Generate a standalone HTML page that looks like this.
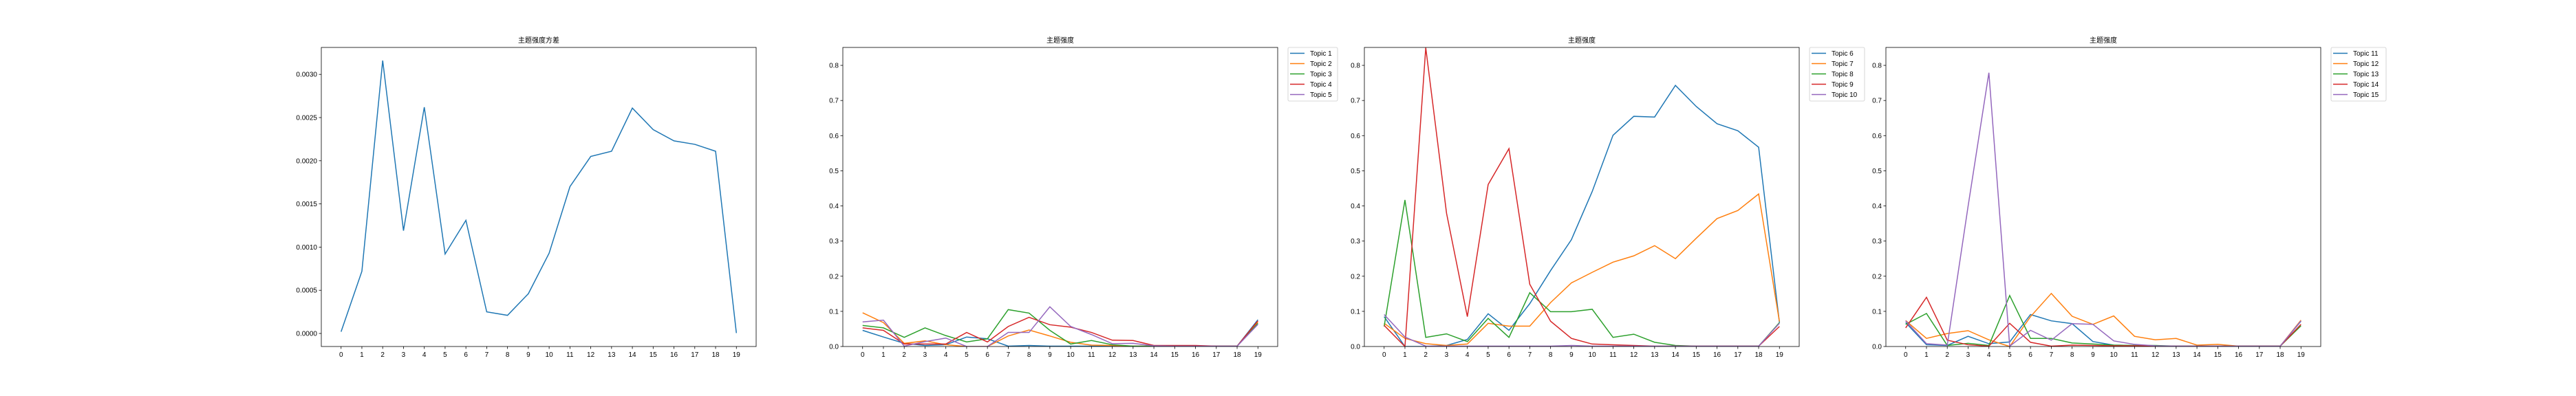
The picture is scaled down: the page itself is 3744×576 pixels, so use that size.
<!DOCTYPE html>
<html><head><meta charset="utf-8"><style>
html,body{margin:0;padding:0;background:#fff;}
svg{display:block;font-family:"Liberation Sans","Noto Sans CJK SC",sans-serif;}
</style></head><body>
<svg id="chart" width="3744" height="576" viewBox="0 0 3744 576" xmlns="http://www.w3.org/2000/svg"></svg>
<script>
const categories = [0,1,2,3,4,5,6,7,8,9,10,11,12,13,14,15,16,17,18,19];
const varianceValues = [0.00002,0.00072,0.00316,0.00119,0.00262,0.00092,0.00131,0.00025,0.00021,0.00046,0.00093,0.0017,0.00205,0.00211,0.00261,0.00236,0.00223,0.00219,0.00211,0.000005];
const varianceTicks = [0,0.0005,0.001,0.0015,0.002,0.0025,0.003];
const strengthTicks = [0,0.1,0.2,0.3,0.4,0.5,0.6,0.7,0.8];
const topic1 = [0.046,0.027,0.009,0.003,0.005,0.027,0.022,0.001,0.003,0.001,0.001,0.001,0.001,0.001,0.001,0.001,0.001,0.001,0.001,0.076];
const topic2 = [0.096,0.068,0.009,0.016,0.005,0,0,0.030,0.047,0.030,0.012,0.004,0.003,0.001,0.001,0.001,0.001,0.001,0.001,0.070];
const topic3 = [0.060,0.053,0.026,0.053,0.031,0.013,0.022,0.105,0.095,0.046,0.007,0.017,0.005,0.001,0.001,0.001,0.001,0.001,0.001,0.066];
const topic4 = [0.053,0.046,0.007,0.007,0.007,0.040,0.013,0.057,0.083,0.062,0.055,0.040,0.018,0.017,0.003,0.003,0.003,0.001,0.001,0.073];
const topic5 = [0.070,0.075,0.001,0.014,0.024,0,0,0.040,0.040,0.113,0.057,0.034,0.008,0.009,0.002,0.001,0.001,0.001,0.001,0.063];
const topic6 = [0.085,0,0,0.003,0.020,0.093,0.046,0.122,0.216,0.304,0.441,0.601,0.655,0.653,0.743,0.683,0.634,0.614,0.567,0.068];
const topic7 = [0.066,0.023,0.008,0.003,0.007,0.066,0.058,0.058,0.125,0.181,0.211,0.240,0.258,0.287,0.250,0.308,0.364,0.387,0.434,0.071];
const topic8 = [0.057,0.417,0.026,0.036,0.014,0.080,0.026,0.153,0.099,0.099,0.106,0.026,0.035,0.012,0.003,0.001,0.001,0.001,0.001,0.068];
const topic9 = [0.060,0,0.850,0.379,0.085,0.461,0.563,0.177,0.072,0.023,0.007,0.005,0.003,0.001,0.001,0.001,0.001,0.001,0.001,0.057];
const topic10 = [0.091,0.027,0.001,0.001,0.001,0.001,0.001,0.001,0.001,0.003,0.001,0.001,0.001,0.001,0.001,0.001,0.001,0.001,0.001,0.066];
const topic11 = [0.068,0.005,0.003,0.029,0.008,0.013,0.091,0.073,0.065,0.014,0.004,0.003,0.001,0.001,0.001,0.001,0.001,0.001,0.001,0.072];
const topic12 = [0.074,0.023,0.037,0.045,0.019,0,0.085,0.151,0.086,0.063,0.087,0.029,0.019,0.023,0.004,0.006,0.001,0.001,0.001,0.075];
const topic13 = [0.063,0.094,0.003,0.009,0.003,0.145,0.023,0.023,0.010,0.007,0.004,0.003,0.003,0.001,0.001,0.001,0.001,0.001,0.001,0.059];
const topic14 = [0.053,0.140,0.018,0.005,0.001,0.066,0.012,0.001,0.004,0.003,0.002,0.002,0.001,0.001,0.001,0.001,0.001,0.001,0.001,0.063];
const topic15 = [0.073,0.008,0.004,0.399,0.779,0.001,0.046,0.018,0.065,0.063,0.016,0.006,0.002,0.001,0.001,0.001,0.001,0.001,0.001,0.073];
const groupA = ["Topic 1","Topic 2","Topic 3","Topic 4","Topic 5"];
const groupB = ["Topic 6","Topic 7","Topic 8","Topic 9","Topic 10"];
const groupC = ["Topic 11","Topic 12","Topic 13","Topic 14","Topic 15"];

const NS = "http://www.w3.org/2000/svg";
const svg = document.getElementById("chart");
const colors = ["#1f77b4","#ff7f0e","#2ca02c","#d62728","#9467bd"];
function mk(tag, attrs, parent){const e=document.createElementNS(NS,tag);for(const k in attrs)e.setAttribute(k,attrs[k]);(parent||svg).appendChild(e);return e;}

const TOP=69, BOT=504, W=632;
function panel(left, title, ymin, ymax, ticks, fmt, seriesList, names, idx){
  const g = mk("g",{});
  
  
  const xs = v => left + (v + 0.95) / 20.9 * W;
  const ys = v => BOT - (v - ymin) / (ymax - ymin) * (BOT - TOP);
  const t = mk("text",{x:left+W/2,y:62,"text-anchor":"middle","font-size":"10",fill:"#000"},g);
  t.textContent = title;
  
  
  ticks.forEach(v=>{
    const y=ys(v);
    mk("line",{x1:left-3.5,x2:left,y1:y,y2:y,stroke:"#000","stroke-width":0.8},g);
    const l=mk("text",{x:left-6,y:y+3.5,"text-anchor":"end","font-size":"10",fill:"#000"},g);
    l.textContent=fmt(v);
    
    
  });
  categories.forEach(c=>{
    const x=xs(c);
    mk("line",{x1:x,x2:x,y1:BOT,y2:BOT+3.5,stroke:"#000","stroke-width":0.8},g);
    const l=mk("text",{x:x,y:BOT+15,"text-anchor":"middle","font-size":"10",fill:"#000"},g);
    l.textContent=String(c);
    
    
  });
  const clip = "clip"+idx;
  const cp = mk("clipPath",{id:clip},g);
  mk("rect",{x:left,y:TOP,width:W,height:BOT-TOP},cp);
  seriesList.forEach((s,i)=>{
    const d = s.map((v,j)=>(j?"L":"M")+xs(categories[j]).toFixed(2)+","+ys(v).toFixed(2)).join("");
    const p = mk("path",{d:d,fill:"none",stroke:colors[i],"stroke-width":1.5,"clip-path":"url(#"+clip+")"},g);
    
    
  });
  const fr = mk("rect",{x:left,y:TOP,width:W,height:BOT-TOP,fill:"none",stroke:"#000","stroke-width":0.8},g);
  
  
  if(names){
    const lx=left+W+15, lw = names[4].length>7?80:72;
    const lg = mk("g",{},g);
    
    
    mk("rect",{x:lx,y:TOP,width:lw,height:78,rx:2,fill:"#fff",stroke:"#ccc","stroke-width":0.8},lg);
    names.forEach((n,i)=>{
      const y=TOP+8.5+i*15;
      const e = mk("g",{},lg);
      
      
      mk("line",{x1:lx+3,x2:lx+24,y1:y,y2:y,stroke:colors[i],"stroke-width":1.5},e);
      const tx=mk("text",{x:lx+32,y:y+3.5,"font-size":"10",fill:"#000"},e);
      tx.textContent=n;
    });
  }
}
panel(467,"主题强度方差",-0.000151,0.003312,varianceTicks,v=>v.toFixed(4),[varianceValues],null,1);
panel(1225,"主题强度",0,0.851,strengthTicks,v=>v.toFixed(1),[topic1,topic2,topic3,topic4,topic5],groupA,2);
panel(1983,"主题强度",0,0.851,strengthTicks,v=>v.toFixed(1),[topic6,topic7,topic8,topic9,topic10],groupB,3);
panel(2741,"主题强度",0,0.851,strengthTicks,v=>v.toFixed(1),[topic11,topic12,topic13,topic14,topic15],groupC,4);
</script>
</body></html>
